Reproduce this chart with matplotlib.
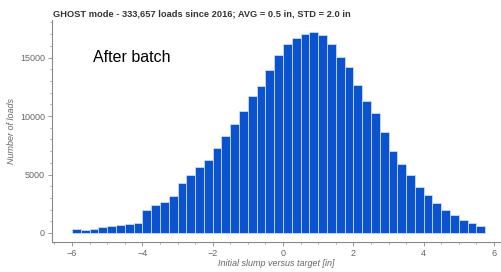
import numpy as np
import matplotlib
matplotlib.use('Agg')
import matplotlib.pyplot as plt
from matplotlib.ticker import MultipleLocator

plt.rcParams['font.family'] = ['Liberation Sans', 'DejaVu Sans']

# histogram of initial slump vs target, bins of 0.25 in from -6 to 5.75
bin_left = np.arange(-6.0, 5.75, 0.25)
counts = [300, 250, 370, 490, 600, 660, 770, 880,
          1970, 2400, 2680, 3160, 4300, 4960, 5620, 6240,
          7290, 8320, 9320, 10400, 11720, 12570, 13940, 15220,
          16160, 16700, 17050, 17210, 16930, 16130, 15020, 14220,
          12650, 11290, 10230, 8610, 7040, 5870, 4960, 3960,
          3250, 2590, 1970, 1510, 1110, 830, 620]
title = 'GHOST mode - 333,657 loads since 2016; AVG = 0.5 in, STD = 2.0 in'

grey = '#8a8a8a'

fig = plt.figure(figsize=(5.02, 2.72), dpi=100)
ax = fig.add_axes([52/502, 30/272, 448/502, 222/272])

ax.bar(bin_left, counts, width=0.25, align='edge', color='#0b52cf',
       edgecolor='#d8e4f8', linewidth=0.5)

ax.set_xlim(-6.57, 6.17)
ax.set_ylim(-770, 18210)

ax.xaxis.set_major_locator(MultipleLocator(2))
ax.xaxis.set_minor_locator(MultipleLocator(0.5))
ax.yaxis.set_major_locator(MultipleLocator(5000))
ax.yaxis.set_minor_locator(MultipleLocator(1000))

for s in ['top', 'right']:
    ax.spines[s].set_visible(False)
for s in ['left', 'bottom']:
    ax.spines[s].set_color(grey)
    ax.spines[s].set_linewidth(0.8)

ax.tick_params(which='major', length=3, width=0.6, color=grey,
               labelsize=6.5, labelcolor='#666666', pad=2)
ax.tick_params(which='minor', length=1.5, width=0.5, color=grey)

ax.set_xlabel('Initial slump versus target [in]', fontsize=6.5,
              style='italic', color='#666666', labelpad=1)
ax.set_ylabel('Number of loads', fontsize=6.5, style='italic',
              color='#666666', labelpad=3)

fig.text(53/502, 1 - 14/272, title, fontsize=6.7, fontweight='bold',
         color='#333333', va='center', ha='left')
fig.text(93/502, 1 - 58/272, 'After batch', fontsize=11.5,
         va='center', ha='left')

fig.savefig('out.png', dpi=100)
